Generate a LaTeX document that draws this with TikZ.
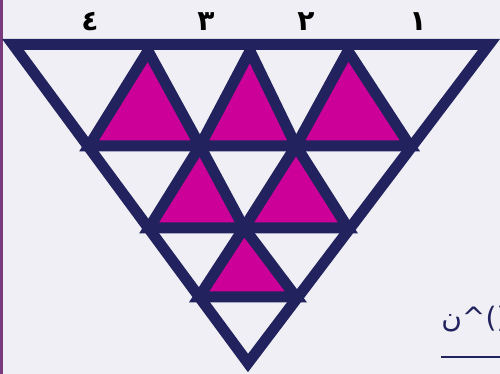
\documentclass[tikz,border=0pt]{standalone}
\usepackage{fontspec}
\usepackage{tikz}
\newfontfamily\arabicfont[Script=Arabic]{DejaVu Sans}
\newfontfamily\plainsans{DejaVu Sans}
\usetikzlibrary{positioning,calc}
\definecolor{framenavy}{RGB}{34,34,94}
\definecolor{fillmagenta}{RGB}{204,0,153}
\definecolor{paperlilac}{RGB}{240,239,246}
\definecolor{edgeplum}{RGB}{120,58,125}

\begin{document}
\begin{tikzpicture}[x=0.02cm, y=-0.02cm,
    grid/.style={draw=framenavy, line width=0.22cm, line join=miter},
    digit/.style={font=\arabicfont\bfseries\fontsize{16}{16}\selectfont, text=black, inner sep=0pt},
    power/.style={font=\fontsize{16}{16}\selectfont, text=framenavy, inner sep=0pt, anchor=west}]
        \useasboundingbox[fill=paperlilac] (0,0) rectangle (500,374);
        \fill[edgeplum] (0,0) rectangle (3,374);

        \coordinate (tl) at (13,44.5);
        \coordinate (tr) at (489,44.5);
        \coordinate (bot) at (248,363);
        \coordinate (a1) at (148,51);
        \coordinate (a2) at (250,51);
        \coordinate (a3) at (348,51);
        \coordinate (b0) at (89,146);
        \coordinate (b1) at (200,146);
        \coordinate (b2) at (296,146);
        \coordinate (b3) at (410,146);
        \coordinate (c0) at (149,228);
        \coordinate (c1) at (244,228);
        \coordinate (c2) at (348,228);
        \coordinate (d0) at (199,297);
        \coordinate (d1) at (296,297);

        \foreach \p/\q/\r in {a1/b0/b1, a2/b1/b2, a3/b2/b3, b1/c0/c1, b2/c1/c2, c1/d0/d1}
            \fill[fillmagenta] (\p) -- (\q) -- (\r) -- cycle;
        \foreach \p/\q/\r in {a1/b0/b1, a2/b1/b2, a3/b2/b3, b1/c0/c1, b2/c1/c2, c1/d0/d1}
            \draw[grid] (\p) -- (\q) -- (\r) -- cycle;
        \draw[grid] (tl) -- (tr) -- (bot) -- cycle;

        \node[digit] (four) at (90,22) {٤};
        \node[digit] (three) at (206,22) {٣};
        \node[digit] (two) at (306,22) {٢};
        \node[digit] (one) at (418,22) {١};

        \node[power] (expo) at (441,319) {\mbox{\arabicfont ن}\mbox{\plainsans\textasciicircum()}};
        \coordinate (rulestart) at (441,357);
        \coordinate (ruleend) at (505,357);
        \draw[framenavy, line width=0.05cm] (rulestart) -- (ruleend);
      \end{tikzpicture}
\end{document}
